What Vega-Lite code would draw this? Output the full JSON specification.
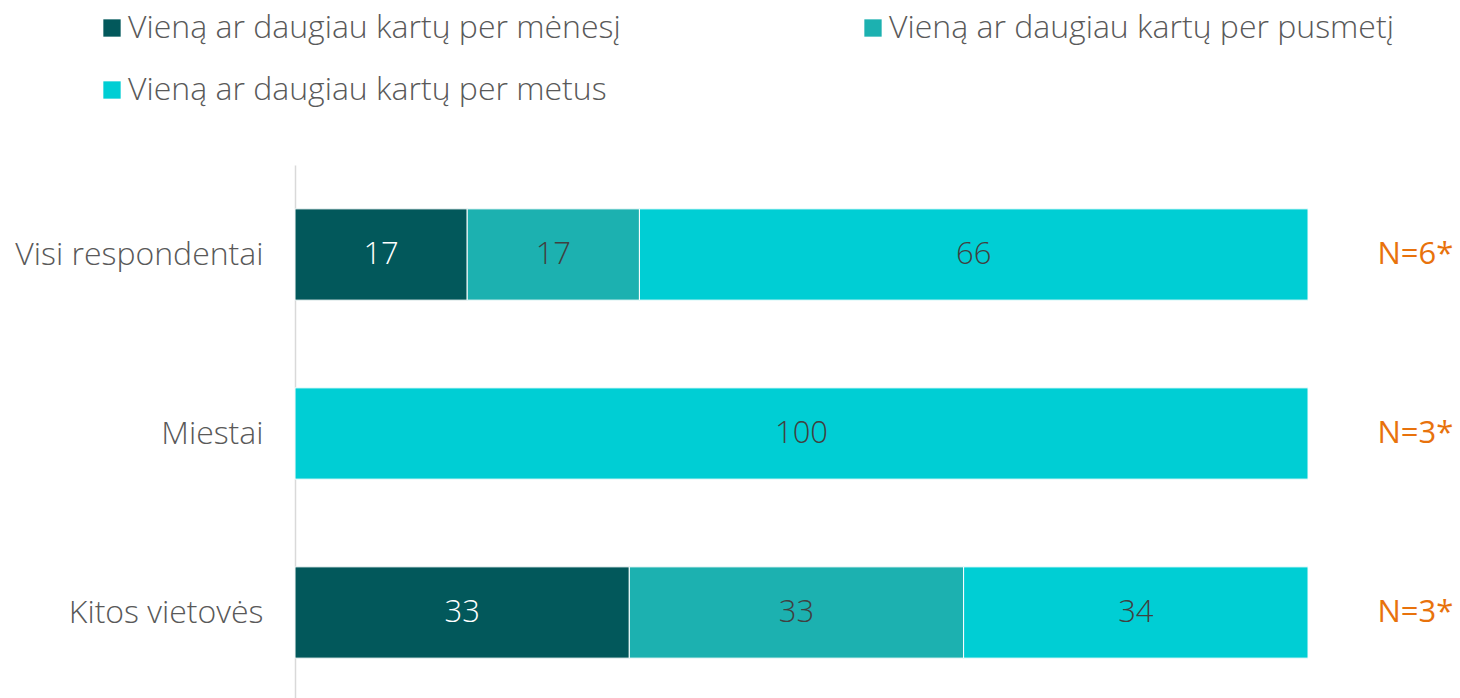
{
  "$schema": "https://vega.github.io/schema/vega-lite/v6.json",
  "width": 1165,
  "height": 537,
  "autosize": {"type": "none"},
  "padding": {"left": 295, "top": 165, "right": 0, "bottom": 0},
  "background": "white",
  "config": {
    "view": {"stroke": null},
    "font": "Open Sans",
    "text": {"font": "Open Sans", "fontWeight": 300}
  },
  "datasets": {
    "bars": [
      {"cat": "Visi respondentai", "series": "Vieną ar daugiau kartų per mėnesį", "ord": 1, "value": 17},
      {"cat": "Visi respondentai", "series": "Vieną ar daugiau kartų per pusmetį", "ord": 2, "value": 17},
      {"cat": "Visi respondentai", "series": "Vieną ar daugiau kartų per metus", "ord": 3, "value": 66},
      {"cat": "Miestai", "series": "Vieną ar daugiau kartų per metus", "ord": 3, "value": 100},
      {"cat": "Kitos vietovės", "series": "Vieną ar daugiau kartų per mėnesį", "ord": 1, "value": 33},
      {"cat": "Kitos vietovės", "series": "Vieną ar daugiau kartų per pusmetį", "ord": 2, "value": 33},
      {"cat": "Kitos vietovės", "series": "Vieną ar daugiau kartų per metus", "ord": 3, "value": 34}
    ],
    "ns": [
      {"cat": "Visi respondentai", "n": "N=6*", "pos": 110.6},
      {"cat": "Miestai", "n": "N=3*", "pos": 110.6},
      {"cat": "Kitos vietovės", "n": "N=3*", "pos": 110.6}
    ]
  },
  "layer": [
    {
      "data": {"name": "bars"},
      "transform": [
        {"stack": "value", "groupby": ["cat"], "sort": [{"field": "ord", "order": "ascending"}], "as": ["x0", "x1"]}
      ],
      "mark": {"type": "bar", "stroke": "white", "strokeWidth": 1},
      "encoding": {
        "y": {
          "field": "cat", "type": "nominal",
          "sort": ["Visi respondentai", "Miestai", "Kitos vietovės"],
          "scale": {"paddingInner": 0.49, "paddingOuter": 0.245},
          "axis": {
            "title": null, "ticks": false, "domainColor": "#d9d9d9", "domainWidth": 1.5,
            "labelFontSize": 32, "labelColor": "#595959", "labelFont": "Open Sans", "labelFontWeight": 300,
            "labelPadding": 32, "labelLimit": 400
          }
        },
        "x": {"field": "x0", "type": "quantitative", "scale": {"domain": [0, 115], "nice": false}, "axis": null},
        "x2": {"field": "x1"},
        "color": {
          "field": "series", "type": "nominal",
          "sort": ["Vieną ar daugiau kartų per mėnesį", "Vieną ar daugiau kartų per pusmetį", "Vieną ar daugiau kartų per metus"],
          "scale": {
            "domain": ["Vieną ar daugiau kartų per mėnesį", "Vieną ar daugiau kartų per pusmetį", "Vieną ar daugiau kartų per metus"],
            "range": ["#02585B", "#1CB1B0", "#00CED4"]
          },
          "legend": {
            "title": null, "orient": "none", "legendX": -199, "legendY": -153,
            "columns": 2, "columnPadding": 236, "rowPadding": 30,
            "symbolType": "square", "symbolSize": 300, "symbolStrokeWidth": 0,
            "labelFontSize": 32, "labelColor": "#595959", "labelFont": "Open Sans", "labelFontWeight": 300,
            "labelLimit": 700, "labelOffset": 0, "direction": "horizontal"
          }
        }
      }
    },
    {
      "data": {"name": "bars"},
      "transform": [
        {"stack": "value", "groupby": ["cat"], "sort": [{"field": "ord", "order": "ascending"}], "as": ["x0", "x1"]},
        {"calculate": "(datum.x0 + datum.x1) / 2", "as": "mid"}
      ],
      "mark": {"type": "text", "fontSize": 31, "fontWeight": 300, "baseline": "middle", "align": "center"},
      "encoding": {
        "y": {"field": "cat", "type": "nominal", "sort": ["Visi respondentai", "Miestai", "Kitos vietovės"]},
        "x": {"field": "mid", "type": "quantitative"},
        "text": {"field": "value", "type": "quantitative"},
        "color": {
          "condition": {"test": "datum.ord === 1", "value": "white"},
          "value": "#404040"
        }
      }
    },
    {
      "data": {"name": "ns"},
      "mark": {"type": "text", "fontSize": 31, "fontWeight": 400, "baseline": "middle", "align": "center", "color": "#E8720C"},
      "encoding": {
        "y": {"field": "cat", "type": "nominal", "sort": ["Visi respondentai", "Miestai", "Kitos vietovės"]},
        "x": {"field": "pos", "type": "quantitative"},
        "text": {"field": "n"}
      }
    }
  ]
}
